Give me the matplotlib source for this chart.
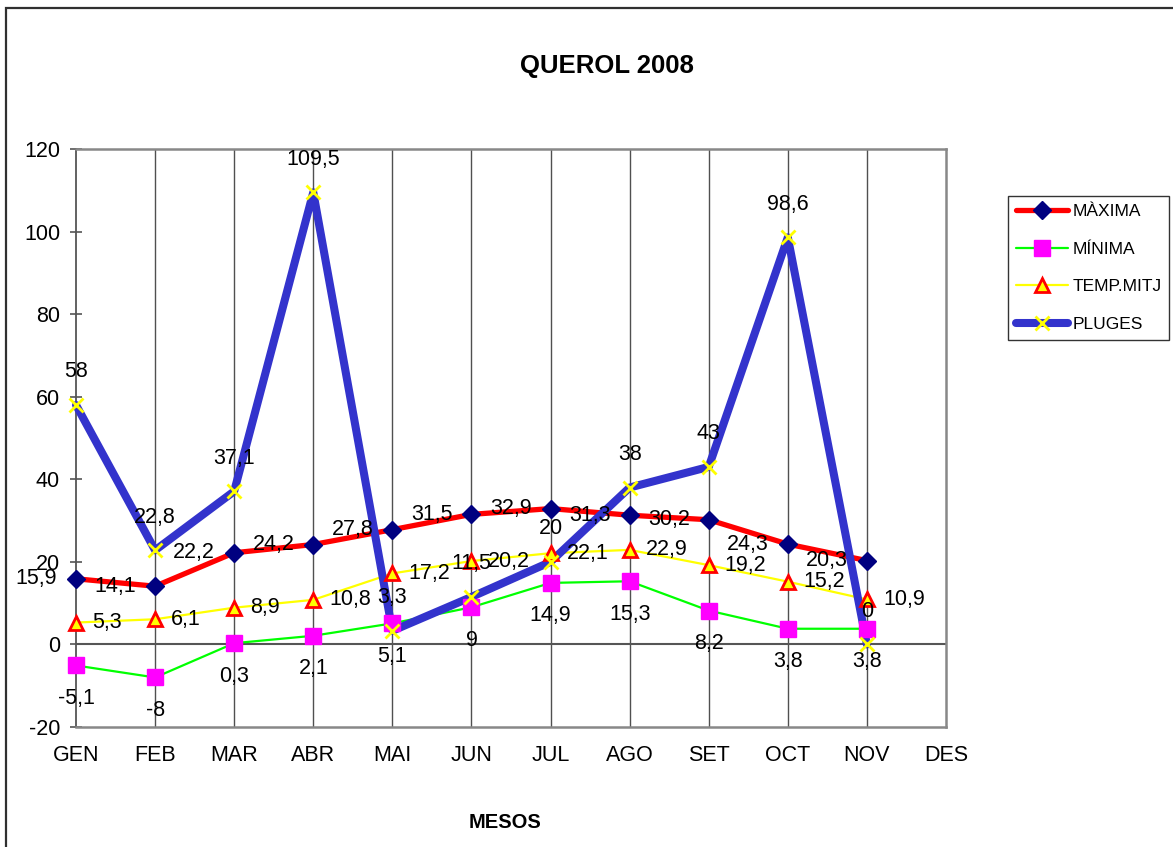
import matplotlib.pyplot as plt
from matplotlib.legend_handler import HandlerTuple
from matplotlib.patches import Rectangle

plt.rcParams['font.family'] = ['Liberation Sans', 'DejaVu Sans']
plt.rcParams['axes.unicode_minus'] = False

# dades QUEROL 2008
mesos = ['GEN', 'FEB', 'MAR', 'ABR', 'MAI', 'JUN', 'JUL', 'AGO', 'SET', 'OCT', 'NOV', 'DES']
maxima = [15.9, 14.1, 22.2, 24.2, 27.8, 31.5, 32.9, 31.3, 30.2, 24.3, 20.3]
minima = [-5.1, -8, 0.3, 2.1, 5.1, 9, 14.9, 15.3, 8.2, 3.8, 3.8]
temp_mitj = [5.3, 6.1, 8.9, 10.8, 17.2, 20.2, 22.1, 22.9, 19.2, 15.2, 10.9]
pluges = [58, 22.8, 37.1, 109.5, 3.3, 11.5, 20, 38, 43, 98.6, 0]
noms = ['MÀXIMA', 'MÍNIMA', 'TEMP.MITJ', 'PLUGES']

W, H = 1173, 847
FS = 15.5
fig = plt.figure(figsize=(W / 100, H / 100), dpi=100)
ax = fig.add_axes([76 / W, 1 - 727 / H, 870 / W, 578 / H])

# marc exterior
fig.patches.append(Rectangle((6 / W, -0.1), 1.2, 1.1 - 8 / H, transform=fig.transFigure,
                             fill=False, edgecolor='#303030', linewidth=1.6))

x = list(range(len(maxima)))

estils = [
    (maxima, dict(color='red', lw=3.8), dict(marker='D', ms=9, mfc='#000080', mec='#000080')),
    (minima, dict(color='#00ff00', lw=1.6), dict(marker='s', ms=11, mfc='#ff00ff', mec='#ff00ff')),
    (temp_mitj, dict(color='#ffff00', lw=1.6), dict(marker='^', ms=10, mfc='#ffff00', mec='red', mew=2)),
    (pluges, dict(color='#3333cc', lw=5.8), dict(marker='x', ms=10, mec='#ffff00', mew=2)),
]

handles = []
for vals, lst, mst in estils:
    l, = ax.plot(x, vals, zorder=3, clip_on=False, solid_capstyle='round', **lst)
    m, = ax.plot(x, vals, linestyle='none', zorder=4, clip_on=False, **mst)
    handles.append((l, m))

def fmt(v):
    return f"{v:g}".replace('.', ',')

for xi, v in zip(x, maxima):
    ax.annotate(fmt(v), (xi, v), xytext=(-19, 0), textcoords='offset pixels',
                ha='right', va='center', fontsize=FS, zorder=6, annotation_clip=False)
for xi, v in zip(x, minima):
    ax.annotate(fmt(v), (xi, v), xytext=(0, -33), textcoords='offset pixels',
                ha='center', va='center', fontsize=FS, zorder=6, annotation_clip=False)
for xi, v in zip(x, temp_mitj):
    ax.annotate(fmt(v), (xi, v), xytext=(16, 0), textcoords='offset pixels',
                ha='left', va='center', fontsize=FS, zorder=6, annotation_clip=False)
for xi, v in zip(x, pluges):
    ax.annotate(fmt(v), (xi, v), xytext=(0, 33), textcoords='offset pixels',
                ha='center', va='center', fontsize=FS, zorder=6, annotation_clip=False)

ax.set_xlim(0, 11)
ax.set_ylim(-20, 120)
ax.set_yticks(range(-20, 121, 20))
ax.set_xticks(range(12))
ax.set_xticklabels(mesos)
ax.tick_params(axis='x', length=0, pad=13, labelsize=FS)
ax.tick_params(axis='y', direction='inout', length=9, width=1.2, color='#555555', pad=7, labelsize=FS)

for xi in range(1, 11):
    ax.axvline(xi, color='#505050', lw=1, zorder=1)
ax.axhline(0, color='#555555', lw=1.5, zorder=1)

for s in ax.spines.values():
    s.set_color('#888888')
    s.set_linewidth(1.8)
ax.spines['left'].set_color('#555555')
ax.spines['left'].set_linewidth(1.3)

fig.text(607 / W, 1 - 66 / H, 'QUEROL 2008', ha='center', va='center', fontsize=18.5, fontweight='bold')
fig.text(505 / W, 1 - 822 / H, 'MESOS', ha='center', va='center', fontsize=14.5, fontweight='bold')

leg = ax.legend(handles, noms, handler_map={tuple: HandlerTuple(ndivide=1)},
                loc='upper left', bbox_to_anchor=(1008 / W, 1 - 196 / H),
                bbox_transform=fig.transFigure, fontsize=12.5, frameon=True, fancybox=False,
                handlelength=3.0, handletextpad=0.25, labelspacing=1.3, borderpad=0.45,
                borderaxespad=0)
leg.get_frame().set_edgecolor('black')
leg.get_frame().set_linewidth(1)

fig.savefig('out.png', dpi=100)
